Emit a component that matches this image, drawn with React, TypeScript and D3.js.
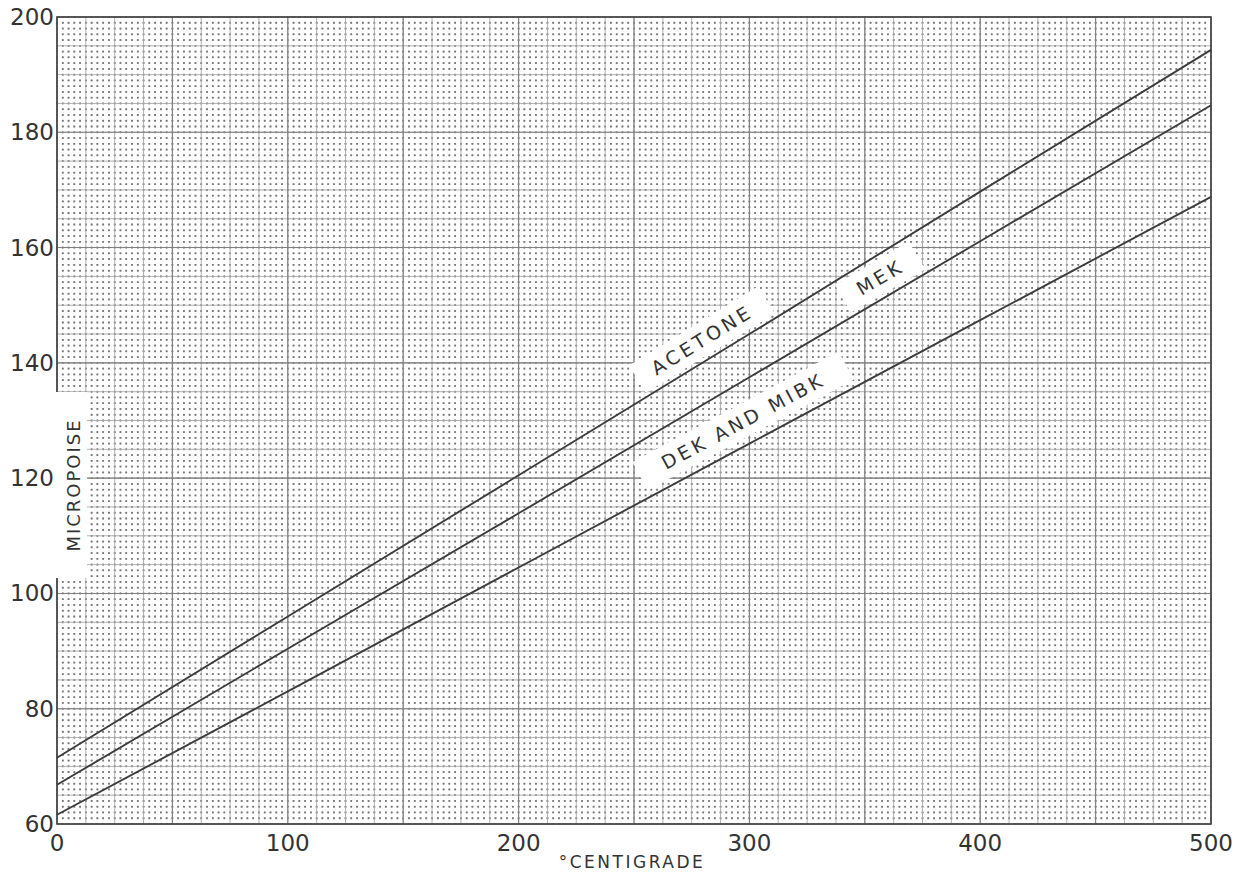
import React from 'react';
import * as d3 from 'd3';

// Viscosity of ketone vapours, micropoise vs °C
const temps = [0, 100, 200, 300, 400, 500];
const acetone = [71.5, 96.0, 120.5, 145.0, 169.7, 194.3];
const mek = [66.8, 90.4, 113.9, 137.5, 161.1, 184.7];
const dekMibk = [61.6, 83.0, 104.5, 126.0, 147.4, 168.8];

const seriesList = [acetone, mek, dekMibk];
const labelNames = ['ACETONE', 'MEK', 'DEK AND MIBK'];
const labelAt = [284, 361, 302]; // °C where each in-line label sits

const xTicks = [0, 100, 200, 300, 400, 500];
const yTicks = [60, 80, 100, 120, 140, 160, 180, 200];

const W = 1246;
const H = 873;
const LEFT = 57;
const RIGHT = 1211;
const TOP = 17;
const BOTTOM = 824;
const FONT = '"DejaVu Sans", sans-serif';
const INK = '#333';

const x = d3.scaleLinear().domain([0, 500]).range([LEFT, RIGHT]);
const y = d3.scaleLinear().domain([60, 200]).range([BOTTOM, TOP]);

const line = d3
  .line<number>()
  .x((_, i) => x(temps[i]))
  .y((d) => y(d));

const interp = (vals: number[], t: number) => {
  const f = d3.scaleLinear().domain(temps).range(vals);
  return f(t);
};

export default function App() {
  // graph paper: dotted fine rules, light squares, heavier every fourth square
  const xFine = d3.range(0, 500.01, 2.5);
  const yFine = d3.range(60, 200.01, 1);
  const xMid = d3.range(0, 500.01, 12.5);
  const yMid = d3.range(60, 200.01, 5);
  const xMajor = d3.range(0, 500.01, 50);
  const yMajor = d3.range(60, 200.01, 20);

  const dotY = y(199) - y(200);
  const dotX = x(2.5) - x(0);

  const labels = labelNames.map((name, i) => {
    const vals = seriesList[i];
    const t = labelAt[i];
    const px = x(t);
    const py = y(interp(vals, t));
    const slope = (y(vals[0]) - y(vals[vals.length - 1])) / (x(500) - x(0));
    const a = Math.atan(slope);
    const d = i === 2 ? 23 : 20;
    const cx = px - d * Math.sin(a);
    const cy = py - d * Math.cos(a);
    const boxW = name.length * 16.5 + 36;
    return { name, cx, cy, deg: (-a * 180) / Math.PI, boxW };
  });

  return (
    <svg
      width={W}
      height={H}
      style={{ position: 'absolute', left: 0, top: 0, background: '#fff' }}
    >
      <rect width={W} height={H} fill="#fff" />

      <g>
        {xFine.map((v) => (
          <line
            key={`xf${v}`}
            x1={x(v)}
            x2={x(v)}
            y1={TOP}
            y2={BOTTOM}
            stroke="#7a7a7a"
            strokeWidth={1.5}
            strokeDasharray={`1.8 ${dotY - 1.8}`}
            strokeDashoffset={0.9}
          />
        ))}
        {yFine.map((v) => (
          <line
            key={`yf${v}`}
            x1={LEFT}
            x2={RIGHT}
            y1={y(v)}
            y2={y(v)}
            stroke="#7a7a7a"
            strokeWidth={1.5}
            strokeDasharray={`1.8 ${dotX - 1.8}`}
            strokeDashoffset={0.9}
          />
        ))}
        {xMid.map((v) => (
          <line
            key={`xm${v}`}
            x1={x(v)}
            x2={x(v)}
            y1={TOP}
            y2={BOTTOM}
            stroke="#a8a8a8"
            strokeWidth={0.9}
          />
        ))}
        {yMid.map((v) => (
          <line
            key={`ym${v}`}
            x1={LEFT}
            x2={RIGHT}
            y1={y(v)}
            y2={y(v)}
            stroke="#a8a8a8"
            strokeWidth={0.9}
          />
        ))}
        {xMajor.map((v) => (
          <line
            key={`xM${v}`}
            x1={x(v)}
            x2={x(v)}
            y1={TOP}
            y2={BOTTOM}
            stroke="#808080"
            strokeWidth={1.1}
          />
        ))}
        {yMajor.map((v) => (
          <line
            key={`yM${v}`}
            x1={LEFT}
            x2={RIGHT}
            y1={y(v)}
            y2={y(v)}
            stroke="#808080"
            strokeWidth={1.1}
          />
        ))}
      </g>

      <rect
        x={LEFT}
        y={TOP}
        width={RIGHT - LEFT}
        height={BOTTOM - TOP}
        fill="none"
        stroke="#444"
        strokeWidth={1.6}
      />

      {/* white label patches on the paper */}
      {labels.map((l) => (
        <rect
          key={`b${l.name}`}
          x={-l.boxW / 2}
          y={-16}
          width={l.boxW}
          height={32}
          fill="#fff"
          transform={`translate(${l.cx},${l.cy}) rotate(${l.deg})`}
        />
      ))}
      <rect x={LEFT - 1} y={392} width={31} height={186} fill="#fff" />

      {seriesList.map((vals, i) => (
        <path
          key={`s${i}`}
          d={line(vals) ?? ''}
          fill="none"
          stroke="#3c3c3c"
          strokeWidth={1.9}
        />
      ))}

      {labels.map((l) => (
        <text
          key={`t${l.name}`}
          transform={`translate(${l.cx},${l.cy}) rotate(${l.deg})`}
          textAnchor="middle"
          dominantBaseline="central"
          fontFamily={FONT}
          fontSize={19}
          letterSpacing={3.5}
          fill={INK}
        >
          {l.name}
        </text>
      ))}

      <text
        transform={`translate(73,485) rotate(-90)`}
        textAnchor="middle"
        dominantBaseline="central"
        fontFamily={FONT}
        fontSize={18}
        letterSpacing={2}
        fill={INK}
      >
        MICROPOISE
      </text>

      {yTicks.map((v) => (
        <text
          key={`yt${v}`}
          x={LEFT - 3}
          y={y(v)}
          textAnchor="end"
          dominantBaseline="central"
          fontFamily={FONT}
          fontSize={23}
          fill={INK}
        >
          {v}
        </text>
      ))}
      {xTicks.map((v) => (
        <text
          key={`xt${v}`}
          x={x(v)}
          y={843}
          textAnchor="middle"
          dominantBaseline="central"
          fontFamily={FONT}
          fontSize={23}
          fill={INK}
        >
          {v}
        </text>
      ))}
      <text
        x={632}
        y={862}
        textAnchor="middle"
        dominantBaseline="central"
        fontFamily={FONT}
        fontSize={17}
        letterSpacing={2.5}
        fill={INK}
      >
        °CENTIGRADE
      </text>
    </svg>
  );
}
